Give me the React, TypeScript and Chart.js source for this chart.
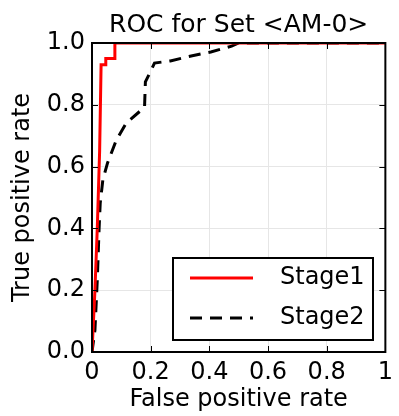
import React, { useEffect, useRef } from "react";
import { Chart, registerables } from "chart.js";

Chart.register(...registerables);

const TITLE = "ROC for Set <AM-0>";
const X_TITLE = "False positive rate";
const Y_TITLE = "True positive rate";
const X_TICKS = [0, 0.2, 0.4, 0.6, 0.8, 1];
const Y_TICKS = [0, 0.2, 0.4, 0.6, 0.8, 1];

const SERIES_LABELS = ["Stage1", "Stage2"];

const stage1Fpr = [0, 0.01, 0.018, 0.026, 0.031, 0.047, 0.047, 0.078, 0.078, 1];
const stage1Tpr = [0, 0.2, 0.4, 0.65, 0.93, 0.93, 0.95, 0.95, 1.0, 1.0];

const stage2Fpr = [0, 0.01, 0.018, 0.024, 0.028, 0.037, 0.053, 0.083, 0.117, 0.168, 0.179, 0.182, 0.202, 0.213, 0.267, 0.338, 0.405, 0.476, 0.5, 1];
const stage2Tpr = [0, 0.071, 0.233, 0.395, 0.482, 0.557, 0.612, 0.686, 0.741, 0.783, 0.79, 0.874, 0.913, 0.935, 0.942, 0.958, 0.971, 0.99, 1.0, 1.0];

const FONT = "'DejaVu Sans', sans-serif";

const framePlugin = {
  id: "framePlugin",
  afterDraw(chart: any) {
    const ctx = chart.ctx;
    const { left, right, top, bottom } = chart.chartArea;
    const xs = chart.scales.x;
    const ys = chart.scales.y;
    ctx.save();
    // inward ticks
    ctx.strokeStyle = "#000";
    ctx.lineWidth = 1;
    const tl = 6;
    X_TICKS.forEach((v) => {
      const px = Math.round(xs.getPixelForValue(v)) + 0.5;
      ctx.beginPath();
      ctx.moveTo(px, bottom);
      ctx.lineTo(px, bottom - tl);
      ctx.moveTo(px, top);
      ctx.lineTo(px, top + tl);
      ctx.stroke();
    });
    Y_TICKS.forEach((v) => {
      const py = Math.round(ys.getPixelForValue(v)) + 0.5;
      ctx.beginPath();
      ctx.moveTo(left, py);
      ctx.lineTo(left + tl, py);
      ctx.moveTo(right, py);
      ctx.lineTo(right - tl, py);
      ctx.stroke();
    });
    // frame
    ctx.lineWidth = 2;
    ctx.strokeRect(left, top, right - left, bottom - top);

    // title
    ctx.fillStyle = "#000";
    ctx.font = "25px " + FONT;
    ctx.textAlign = "center";
    ctx.textBaseline = "alphabetic";
    ctx.fillText(TITLE, (left + right) / 2, top - 11);

    // legend
    const lx = left + 81;
    const ly = top + 215;
    const lw = 200;
    const lh = 82;
    ctx.fillStyle = "#fff";
    ctx.fillRect(lx, ly, lw, lh);
    ctx.lineWidth = 2;
    ctx.strokeStyle = "#000";
    ctx.strokeRect(lx, ly, lw, lh);
    chart.data.datasets.forEach((ds: any, i: number) => {
      const cy = ly + 20 + i * 40;
      ctx.beginPath();
      ctx.strokeStyle = ds.borderColor;
      ctx.lineWidth = ds.borderWidth;
      ctx.setLineDash(ds.borderDash || []);
      ctx.moveTo(lx + 17, cy);
      ctx.lineTo(lx + 80, cy);
      ctx.stroke();
      ctx.setLineDash([]);
      ctx.fillStyle = "#000";
      ctx.textAlign = "left";
      ctx.textBaseline = "middle";
      ctx.font = "24px " + FONT;
      ctx.fillText(ds.label, lx + 107, cy);
    });
    ctx.restore();
  },
};

export default function App() {
  const ref = useRef<HTMLCanvasElement | null>(null);
  useEffect(() => {
    if (!ref.current) return;
    const chart = new Chart(ref.current, {
      type: "line",
      data: {
        datasets: [
          {
            label: SERIES_LABELS[0],
            data: stage1Fpr.map((x, i) => ({ x, y: stage1Tpr[i] })),
            borderColor: "#ff0000",
            borderWidth: 3,
            pointRadius: 0,
            tension: 0,
            fill: false,
          },
          {
            label: SERIES_LABELS[1],
            data: stage2Fpr.map((x, i) => ({ x, y: stage2Tpr[i] })),
            borderColor: "#000000",
            borderWidth: 3,
            borderDash: [12, 8],
            pointRadius: 0,
            tension: 0,
            fill: false,
          },
        ],
      },
      options: {
        animation: false,
        responsive: false,
        maintainAspectRatio: false,
        layout: { padding: { top: 43, right: 11, left: 0, bottom: 0 } },
        plugins: {
          legend: { display: false },
          title: { display: false },
          tooltip: { enabled: false },
        },
        scales: {
          x: {
            type: "linear",
            min: 0,
            max: 1,
            afterBuildTicks: (s: any) => {
              s.ticks = X_TICKS.map((v) => ({ value: v }));
            },
            afterFit: (s: any) => {
              s.height = 64;
            },
            ticks: {
              color: "#000",
              font: { family: FONT, size: 24 },
              padding: 6,
              maxRotation: 0,
              callback: (v: any) => (v === 0 ? "0" : v === 1 ? "1" : Number(v).toFixed(1)),
            },
            grid: { color: "#e6e6e6", lineWidth: 1, drawTicks: false },
            border: { display: false },
            title: {
              display: true,
              text: X_TITLE,
              color: "#000",
              font: { family: FONT, size: 24 },
              padding: { top: 0, bottom: 2 },
            },
          },
          y: {
            type: "linear",
            min: 0,
            max: 1,
            afterBuildTicks: (s: any) => {
              s.ticks = Y_TICKS.map((v) => ({ value: v }));
            },
            afterFit: (s: any) => {
              s.width = 92;
            },
            ticks: {
              color: "#000",
              font: { family: FONT, size: 24 },
              padding: 7,
              callback: (v: any) => Number(v).toFixed(1),
            },
            grid: { color: "#e6e6e6", lineWidth: 1, drawTicks: false },
            border: { display: false },
            title: {
              display: true,
              text: Y_TITLE,
              color: "#000",
              font: { family: FONT, size: 24 },
              padding: { top: 8, bottom: 0 },
            },
          },
        },
      },
      plugins: [framePlugin],
    });
    return () => chart.destroy();
  }, []);
  return (
    <div style={{ position: "fixed", left: 0, top: 0, width: 399, height: 416, background: "#fff" }}>
      <canvas ref={ref} width={399} height={416} style={{ width: 399, height: 416, display: "block" }} />
    </div>
  );
}
